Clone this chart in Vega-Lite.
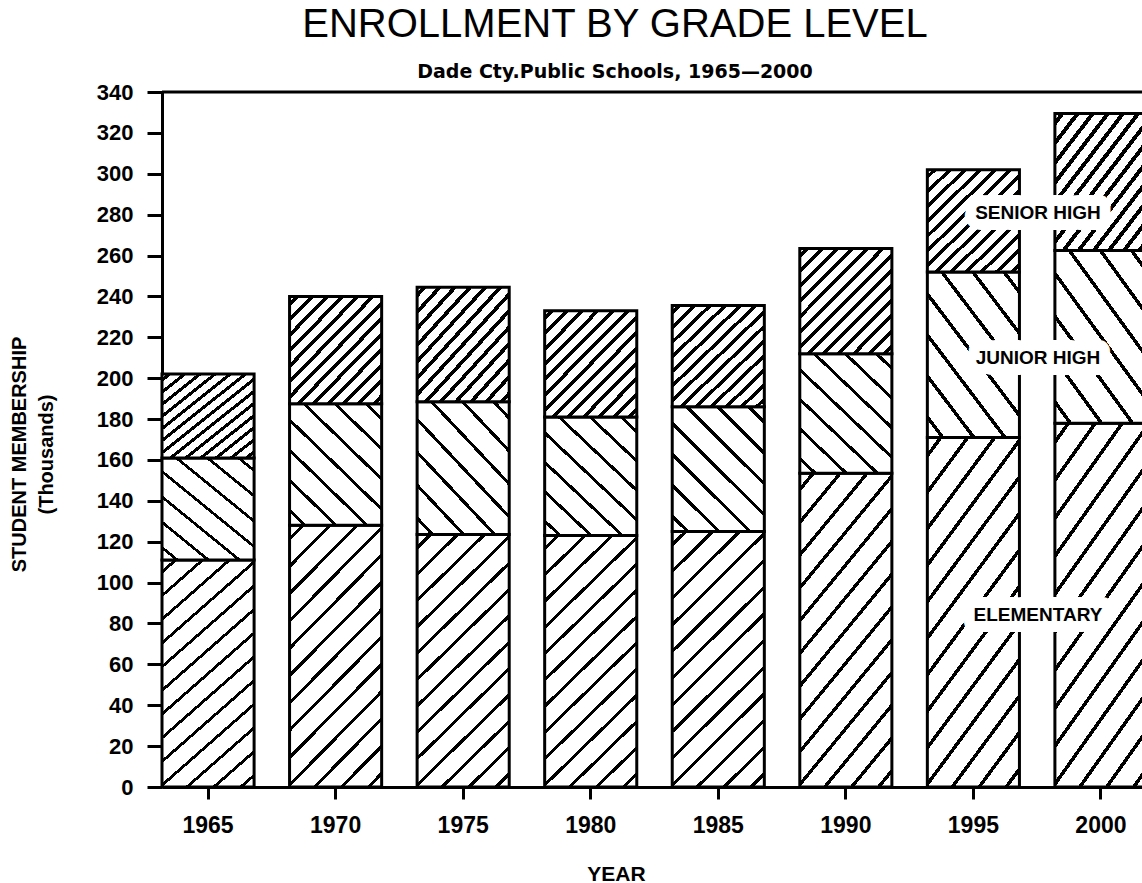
{
  "$schema": "https://vega.github.io/schema/vega-lite/v6.json",
  "autosize": {"type": "none"},
  "padding": {"left": 162, "top": 92, "right": 0, "bottom": 96},
  "width": 980,
  "height": 695,
  "background": "white",
  "title": {
    "text": "ENROLLMENT BY GRADE LEVEL",
    "subtitle": "Dade Cty.Public Schools, 1965\u20142000",
    "font": "Liberation Sans",
    "fontSize": 40,
    "fontWeight": "normal",
    "color": "#000",
    "subtitleFont": "DejaVu Sans",
    "subtitleFontSize": 19,
    "subtitleFontWeight": "bold",
    "subtitleColor": "#000",
    "subtitlePadding": 18,
    "anchor": "middle",
    "frame": "group",
    "dx": -37,
    "offset": -1
  },
  "datasets": {
    "enroll": [
      {"year": "1965", "grade": "Elementary", "enrollment": 111},
      {"year": "1965", "grade": "Junior High", "enrollment": 50},
      {"year": "1965", "grade": "Senior High", "enrollment": 41},
      {"year": "1970", "grade": "Elementary", "enrollment": 128},
      {"year": "1970", "grade": "Junior High", "enrollment": 59.5},
      {"year": "1970", "grade": "Senior High", "enrollment": 52.5},
      {"year": "1975", "grade": "Elementary", "enrollment": 123.5},
      {"year": "1975", "grade": "Junior High", "enrollment": 65},
      {"year": "1975", "grade": "Senior High", "enrollment": 56},
      {"year": "1980", "grade": "Elementary", "enrollment": 123},
      {"year": "1980", "grade": "Junior High", "enrollment": 58},
      {"year": "1980", "grade": "Senior High", "enrollment": 52},
      {"year": "1985", "grade": "Elementary", "enrollment": 125},
      {"year": "1985", "grade": "Junior High", "enrollment": 61},
      {"year": "1985", "grade": "Senior High", "enrollment": 49.5},
      {"year": "1990", "grade": "Elementary", "enrollment": 153.5},
      {"year": "1990", "grade": "Junior High", "enrollment": 58.5},
      {"year": "1990", "grade": "Senior High", "enrollment": 51.5},
      {"year": "1995", "grade": "Elementary", "enrollment": 171},
      {"year": "1995", "grade": "Junior High", "enrollment": 81},
      {"year": "1995", "grade": "Senior High", "enrollment": 50},
      {"year": "2000", "grade": "Elementary", "enrollment": 178},
      {"year": "2000", "grade": "Junior High", "enrollment": 84.5},
      {"year": "2000", "grade": "Senior High", "enrollment": 67}
    ],
    "labels": [
      {"year": "2000", "label": "SENIOR HIGH", "value": 281},
      {"year": "2000", "label": "JUNIOR HIGH", "value": 210},
      {"year": "2000", "label": "ELEMENTARY", "value": 84}
    ],
    "frame": [{"top": 340}]
  },
  "config": {
    "view": {"stroke": null},
    "axis": {
      "domainColor": "#000", "domainWidth": 3,
      "tickColor": "#000", "tickWidth": 3,
      "labelColor": "#000", "labelFont": "Liberation Sans", "labelFontWeight": "bold",
      "titleColor": "#000", "titleFont": "Liberation Sans", "titleFontWeight": "bold",
      "grid": false
    },
    "axisX": {
      "labelFontSize": 23, "tickSize": 12, "labelPadding": 15, "labelAngle": 0,
      "titleFontSize": 21, "titleX": 454, "titleY": 93, "titleBaseline": "alphabetic", "titleAlign": "center"
    },
    "axisY": {
      "labelFontSize": 22, "tickSize": 15, "labelPadding": 14,
      "titleFontSize": 20, "titleX": -143, "titleY": 362, "titleAngle": 270,
      "titleAlign": "center", "titleBaseline": "middle", "titleLineHeight": 27
    }
  },
  "layer": [
    {
      "data": {"name": "enroll"},
      "transform": [
        {"stack": "enrollment", "groupby": ["year"], "sort": [{"field": "grade", "order": "ascending"}], "as": ["y0", "y1"]},
        {"filter": "datum.grade === 'Elementary'"}
      ],
      "mark": {
        "type": "bar", "stroke": "#000", "strokeWidth": 3,
        "fill": {"gradient": "linear", "x1": 0, "y1": 0, "x2": 0.43, "y2": 1.204, "stops": [
          {"offset": 0, "color": "#fff"},
          {"offset": 0.0323, "color": "#fff"}, {"offset": 0.0323, "color": "#000"}, {"offset": 0.0447, "color": "#000"}, {"offset": 0.0447, "color": "#fff"},
          {"offset": 0.1092, "color": "#fff"}, {"offset": 0.1092, "color": "#000"}, {"offset": 0.1216, "color": "#000"}, {"offset": 0.1216, "color": "#fff"},
          {"offset": 0.1861, "color": "#fff"}, {"offset": 0.1861, "color": "#000"}, {"offset": 0.1985, "color": "#000"}, {"offset": 0.1985, "color": "#fff"},
          {"offset": 0.2630, "color": "#fff"}, {"offset": 0.2630, "color": "#000"}, {"offset": 0.2754, "color": "#000"}, {"offset": 0.2754, "color": "#fff"},
          {"offset": 0.3400, "color": "#fff"}, {"offset": 0.3400, "color": "#000"}, {"offset": 0.3524, "color": "#000"}, {"offset": 0.3524, "color": "#fff"},
          {"offset": 0.4169, "color": "#fff"}, {"offset": 0.4169, "color": "#000"}, {"offset": 0.4293, "color": "#000"}, {"offset": 0.4293, "color": "#fff"},
          {"offset": 0.4938, "color": "#fff"}, {"offset": 0.4938, "color": "#000"}, {"offset": 0.5062, "color": "#000"}, {"offset": 0.5062, "color": "#fff"},
          {"offset": 0.5707, "color": "#fff"}, {"offset": 0.5707, "color": "#000"}, {"offset": 0.5831, "color": "#000"}, {"offset": 0.5831, "color": "#fff"},
          {"offset": 0.6477, "color": "#fff"}, {"offset": 0.6477, "color": "#000"}, {"offset": 0.6601, "color": "#000"}, {"offset": 0.6601, "color": "#fff"},
          {"offset": 0.7246, "color": "#fff"}, {"offset": 0.7246, "color": "#000"}, {"offset": 0.7370, "color": "#000"}, {"offset": 0.7370, "color": "#fff"},
          {"offset": 0.8015, "color": "#fff"}, {"offset": 0.8015, "color": "#000"}, {"offset": 0.8139, "color": "#000"}, {"offset": 0.8139, "color": "#fff"},
          {"offset": 0.8784, "color": "#fff"}, {"offset": 0.8784, "color": "#000"}, {"offset": 0.8908, "color": "#000"}, {"offset": 0.8908, "color": "#fff"},
          {"offset": 0.9554, "color": "#fff"}, {"offset": 0.9554, "color": "#000"}, {"offset": 0.9678, "color": "#000"}, {"offset": 0.9678, "color": "#fff"},
          {"offset": 1, "color": "#fff"}
        ]}
      },
      "encoding": {
        "x": {"field": "year", "type": "ordinal", "title": "YEAR",
              "scale": {"range": [0, 985], "paddingInner": 0.278, "paddingOuter": 0}},
        "y": {"field": "y1", "type": "quantitative", "title": ["STUDENT MEMBERSHIP", "(Thousands)"],
              "scale": {"domain": [0, 340], "nice": false},
              "axis": {"values": [0, 20, 40, 60, 80, 100, 120, 140, 160, 180, 200, 220, 240, 260, 280, 300, 320, 340]}},
        "y2": {"field": "y0"}
      }
    },
    {
      "data": {"name": "enroll"},
      "transform": [
        {"stack": "enrollment", "groupby": ["year"], "sort": [{"field": "grade", "order": "ascending"}], "as": ["y0", "y1"]},
        {"filter": "datum.grade === 'Junior High'"}
      ],
      "mark": {
        "type": "bar", "stroke": "#000", "strokeWidth": 3,
        "fill": {"gradient": "linear", "x1": 1, "y1": 0, "x2": 0.172, "y2": 1.127, "stops": [
          {"offset": 0, "color": "#fff"},
          {"offset": 0.0614, "color": "#fff"}, {"offset": 0.0614, "color": "#000"}, {"offset": 0.0814, "color": "#000"}, {"offset": 0.0814, "color": "#fff"},
          {"offset": 0.2043, "color": "#fff"}, {"offset": 0.2043, "color": "#000"}, {"offset": 0.2243, "color": "#000"}, {"offset": 0.2243, "color": "#fff"},
          {"offset": 0.3471, "color": "#fff"}, {"offset": 0.3471, "color": "#000"}, {"offset": 0.3671, "color": "#000"}, {"offset": 0.3671, "color": "#fff"},
          {"offset": 0.49, "color": "#fff"}, {"offset": 0.49, "color": "#000"}, {"offset": 0.51, "color": "#000"}, {"offset": 0.51, "color": "#fff"},
          {"offset": 0.6329, "color": "#fff"}, {"offset": 0.6329, "color": "#000"}, {"offset": 0.6529, "color": "#000"}, {"offset": 0.6529, "color": "#fff"},
          {"offset": 0.7757, "color": "#fff"}, {"offset": 0.7757, "color": "#000"}, {"offset": 0.7957, "color": "#000"}, {"offset": 0.7957, "color": "#fff"},
          {"offset": 0.9186, "color": "#fff"}, {"offset": 0.9186, "color": "#000"}, {"offset": 0.9386, "color": "#000"}, {"offset": 0.9386, "color": "#fff"},
          {"offset": 1, "color": "#fff"}
        ]}
      },
      "encoding": {
        "x": {"field": "year", "type": "ordinal", "title": "YEAR",
              "scale": {"range": [0, 985], "paddingInner": 0.278, "paddingOuter": 0}},
        "y": {"field": "y1", "type": "quantitative", "title": ["STUDENT MEMBERSHIP", "(Thousands)"],
              "axis": {"values": [0, 20, 40, 60, 80, 100, 120, 140, 160, 180, 200, 220, 240, 260, 280, 300, 320, 340]}},
        "y2": {"field": "y0"}
      }
    },
    {
      "data": {"name": "enroll"},
      "transform": [
        {"stack": "enrollment", "groupby": ["year"], "sort": [{"field": "grade", "order": "ascending"}], "as": ["y0", "y1"]},
        {"filter": "datum.grade === 'Senior High'"}
      ],
      "mark": {
        "type": "bar", "stroke": "#000", "strokeWidth": 3,
        "fill": {"gradient": "linear", "x1": 0, "y1": 0, "x2": 0.93, "y2": 1.06, "stops": [
          {"offset": 0, "color": "#fff"},
          {"offset": 0.0258, "color": "#fff"}, {"offset": 0.0258, "color": "#000"}, {"offset": 0.0511, "color": "#000"}, {"offset": 0.0511, "color": "#fff"},
          {"offset": 0.1027, "color": "#fff"}, {"offset": 0.1027, "color": "#000"}, {"offset": 0.1281, "color": "#000"}, {"offset": 0.1281, "color": "#fff"},
          {"offset": 0.1796, "color": "#fff"}, {"offset": 0.1796, "color": "#000"}, {"offset": 0.2050, "color": "#000"}, {"offset": 0.2050, "color": "#fff"},
          {"offset": 0.2566, "color": "#fff"}, {"offset": 0.2566, "color": "#000"}, {"offset": 0.2819, "color": "#000"}, {"offset": 0.2819, "color": "#fff"},
          {"offset": 0.3335, "color": "#fff"}, {"offset": 0.3335, "color": "#000"}, {"offset": 0.3588, "color": "#000"}, {"offset": 0.3588, "color": "#fff"},
          {"offset": 0.4104, "color": "#fff"}, {"offset": 0.4104, "color": "#000"}, {"offset": 0.4358, "color": "#000"}, {"offset": 0.4358, "color": "#fff"},
          {"offset": 0.4873, "color": "#fff"}, {"offset": 0.4873, "color": "#000"}, {"offset": 0.5127, "color": "#000"}, {"offset": 0.5127, "color": "#fff"},
          {"offset": 0.5642, "color": "#fff"}, {"offset": 0.5642, "color": "#000"}, {"offset": 0.5896, "color": "#000"}, {"offset": 0.5896, "color": "#fff"},
          {"offset": 0.6412, "color": "#fff"}, {"offset": 0.6412, "color": "#000"}, {"offset": 0.6665, "color": "#000"}, {"offset": 0.6665, "color": "#fff"},
          {"offset": 0.7181, "color": "#fff"}, {"offset": 0.7181, "color": "#000"}, {"offset": 0.7435, "color": "#000"}, {"offset": 0.7435, "color": "#fff"},
          {"offset": 0.7950, "color": "#fff"}, {"offset": 0.7950, "color": "#000"}, {"offset": 0.8204, "color": "#000"}, {"offset": 0.8204, "color": "#fff"},
          {"offset": 0.8719, "color": "#fff"}, {"offset": 0.8719, "color": "#000"}, {"offset": 0.8973, "color": "#000"}, {"offset": 0.8973, "color": "#fff"},
          {"offset": 0.9489, "color": "#fff"}, {"offset": 0.9489, "color": "#000"}, {"offset": 0.9742, "color": "#000"}, {"offset": 0.9742, "color": "#fff"},
          {"offset": 1, "color": "#fff"}
        ]}
      },
      "encoding": {
        "x": {"field": "year", "type": "ordinal", "title": "YEAR",
              "scale": {"range": [0, 985], "paddingInner": 0.278, "paddingOuter": 0}},
        "y": {"field": "y1", "type": "quantitative", "title": ["STUDENT MEMBERSHIP", "(Thousands)"],
              "axis": {"values": [0, 20, 40, 60, 80, 100, 120, 140, 160, 180, 200, 220, 240, 260, 280, 300, 320, 340]}},
        "y2": {"field": "y0"}
      }
    },
    {
      "data": {"name": "frame"},
      "mark": {"type": "rule", "stroke": "#000", "strokeWidth": 3},
      "encoding": {
        "y": {"field": "top", "type": "quantitative", "title": ["STUDENT MEMBERSHIP", "(Thousands)"]}
      }
    },
    {
      "data": {"name": "labels"},
      "mark": {"type": "text", "font": "Liberation Sans", "fontWeight": "bold", "fontSize": 19,
               "dx": -63, "align": "center", "baseline": "middle",
               "fill": "#fff", "stroke": "#fff", "strokeWidth": 22, "strokeJoin": "round"},
      "encoding": {
        "x": {"field": "year", "type": "ordinal", "title": "YEAR"},
        "y": {"field": "value", "type": "quantitative", "title": ["STUDENT MEMBERSHIP", "(Thousands)"]},
        "text": {"field": "label"}
      }
    },
    {
      "data": {"name": "labels"},
      "mark": {"type": "text", "font": "Liberation Sans", "fontWeight": "bold", "fontSize": 19,
               "dx": -63, "align": "center", "baseline": "middle", "fill": "#000"},
      "encoding": {
        "x": {"field": "year", "type": "ordinal", "title": "YEAR"},
        "y": {"field": "value", "type": "quantitative", "title": ["STUDENT MEMBERSHIP", "(Thousands)"]},
        "text": {"field": "label"}
      }
    }
  ]
}
